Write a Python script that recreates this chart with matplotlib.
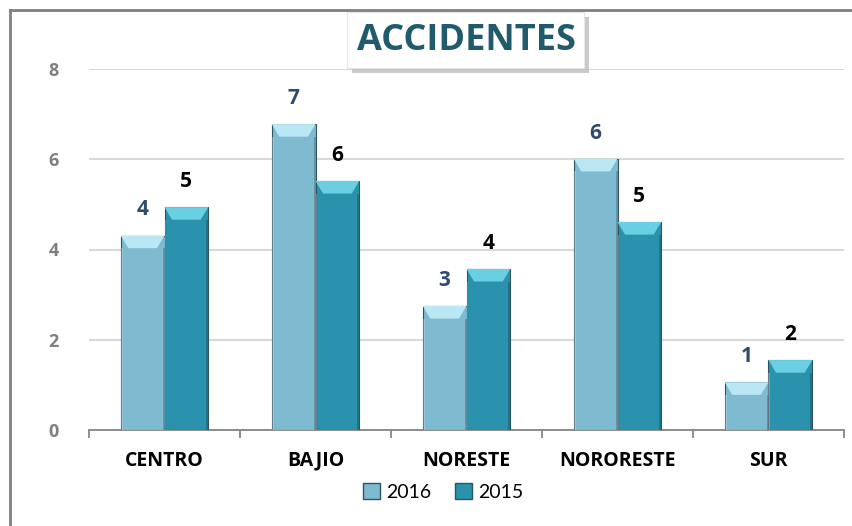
import numpy as np
import matplotlib
matplotlib.use('Agg')
import matplotlib.pyplot as plt
from matplotlib.patches import Polygon, Patch, Rectangle

plt.rcParams['font.family'] = ['Open Sans', 'DejaVu Sans']

# datos
regiones = ['CENTRO', 'BAJIO', 'NORESTE', 'NORORESTE', 'SUR']
valores_2016 = [4.31, 6.78, 2.75, 6.01, 1.06]
valores_2015 = [4.94, 5.52, 3.57, 4.61, 1.55]
etiquetas_2016 = ['4', '7', '3', '6', '1']
etiquetas_2015 = ['5', '6', '4', '5', '2']

fig = plt.figure(figsize=(8.52, 5.26), dpi=100)
ax = fig.add_axes([89 / 852, 1 - 430 / 526, (844 - 89) / 852, (430 - 69) / 526])

x = np.arange(len(regiones))
w = 0.29

series = [
    (valores_2016, etiquetas_2016, -w / 2, '#7EBBD1', '#B9E8F4', '#2F4B6E'),
    (valores_2015, etiquetas_2015, w / 2, '#2A92AD', '#6ACFE2', 'black'),
]

for vals, labs, off, body, top, lab_color in series:
    bars = ax.bar(x + off, vals, width=w, color=body, edgecolor='#2E5461',
                  linewidth=0.8, zorder=3)
    for b, lab in zip(bars, labs):
        x0, x1, h = b.get_x(), b.get_x() + b.get_width(), b.get_height()
        d, bh = 0.05, 0.28
        # bisel superior
        ax.add_patch(Polygon([(x0, h), (x1, h), (x1 - d, h - bh), (x0 + d, h - bh)],
                             closed=True, facecolor=top, edgecolor='none', zorder=4))
        # bordes laterales
        ax.add_patch(Rectangle((x0, 0), 0.012, h - bh, facecolor='white', alpha=0.25,
                               edgecolor='none', zorder=4))
        ax.add_patch(Rectangle((x1 - 0.012, 0), 0.012, h - bh, facecolor='black', alpha=0.2,
                               edgecolor='none', zorder=4))
        ax.annotate(lab, (b.get_x() + b.get_width() / 2, h), xytext=(0, 11),
                    textcoords='offset points', ha='center', va='bottom',
                    fontsize=15, fontweight='bold', color=lab_color, zorder=5)

ax.set_xlim(-0.5, len(regiones) - 0.5)
ax.set_ylim(0, 8)
ax.set_yticks([0, 2, 4, 6, 8])
ax.yaxis.grid(True, color='#D9D9D9', linewidth=1.5, zorder=0)
ax.set_axisbelow(True)

for s in ['top', 'right', 'left']:
    ax.spines[s].set_visible(False)
ax.spines['bottom'].set_color('#868686')
ax.spines['bottom'].set_linewidth(1.3)

ax.set_xticks(x)
ax.set_xticklabels(regiones, fontsize=14, fontweight='bold', color='black')
ax.set_xticks(np.arange(-0.5, len(regiones)), minor=True)
ax.tick_params(axis='x', which='major', length=0, pad=15)
ax.tick_params(axis='x', which='minor', length=6, width=1.3, color='#868686', direction='out')
ax.tick_params(axis='y', length=0, pad=22, labelsize=13, labelcolor='#7F7F7F')
for t in ax.get_yticklabels():
    t.set_fontweight('bold')

# leyenda
handles = [Patch(facecolor='#7EBBD1', edgecolor='#2E5461', label='2016'),
           Patch(facecolor='#2A92AD', edgecolor='#2E5461', label='2015')]
fig.legend(handles=handles, loc='center', bbox_to_anchor=(443 / 852, 1 - 492 / 526),
           ncol=2, frameon=False, handlelength=0.9, handleheight=0.9,
           handletextpad=0.3, columnspacing=1.2, prop={'family': 'Lato', 'size': 14})

# caja del titulo con sombra
fig.add_artist(Rectangle((352 / 852, 1 - 73 / 526), 237 / 852, 56 / 526,
                         transform=fig.transFigure, facecolor='#BDBDBD',
                         edgecolor='none', alpha=0.8))
fig.add_artist(Rectangle((347 / 852, 1 - 68 / 526), 237 / 852, 56 / 526,
                         transform=fig.transFigure, facecolor='white',
                         edgecolor='#E6E6E6', linewidth=0.8))
fig.text(466 / 852, 1 - 41 / 526, 'ACCIDENTES', ha='center', va='center',
         fontsize=26, fontweight='bold', color='#215A6A')

# borde del grafico
fig.add_artist(plt.Line2D([10 / 852, 10 / 852], [0, 1 - 10 / 526], color='#808080', linewidth=2))
fig.add_artist(plt.Line2D([10 / 852, 1], [1 - 10 / 526, 1 - 10 / 526], color='#808080', linewidth=2))

fig.savefig('out.png', dpi=100)
